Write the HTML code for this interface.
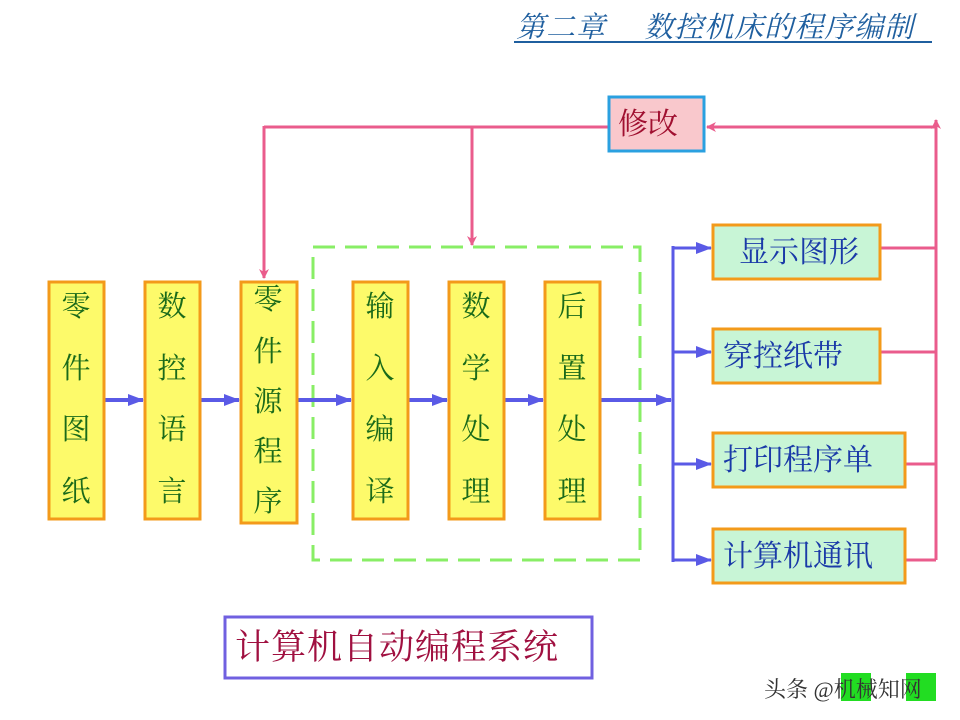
<!DOCTYPE html>
<html><head><meta charset="utf-8"><style>
html,body{margin:0;padding:0;background:#fff;width:960px;height:720px;overflow:hidden}
text{font-family:"Liberation Serif","Noto Serif CJK SC",serif}
</style></head><body>
<svg width="960" height="720" viewBox="0 0 960 720" xmlns="http://www.w3.org/2000/svg">
<defs>
<marker id="bl" markerWidth="16" markerHeight="12" refX="15" refY="6" orient="auto" markerUnits="userSpaceOnUse"><path d="M0,0 L16,6 L0,12z" fill="#5a5ae6"/></marker>
<marker id="pk" markerWidth="10" markerHeight="10" refX="9" refY="5" orient="auto" markerUnits="userSpaceOnUse"><path d="M0,0 L10,5 L0,10 L3,5z" fill="#ea5c8c"/></marker>
</defs>
<text x="516" y="37" font-size="29" font-style="italic" fill="#1f5f9f" letter-spacing="1">第二章　 数控机床的程序编制</text>
<line x1="514" y1="42" x2="932" y2="42" stroke="#1f5f9f" stroke-width="2"/>

<g stroke="#ea5c8c" stroke-width="3" fill="none">
<line x1="264" y1="127" x2="608" y2="127"/>
<line x1="936" y1="127" x2="707" y2="127" marker-end="url(#pk)"/>
<line x1="936" y1="560" x2="936" y2="120" marker-end="url(#pk)"/>
<line x1="264" y1="126" x2="264" y2="278" marker-end="url(#pk)"/>
<line x1="472" y1="126" x2="472" y2="245" marker-end="url(#pk)"/>
<line x1="880" y1="248" x2="936" y2="248"/>
<line x1="880" y1="352" x2="936" y2="352"/>
<line x1="905" y1="464" x2="936" y2="464"/>
<line x1="905" y1="560" x2="936" y2="560"/>
</g>
<rect x="609" y="97" width="95" height="54" fill="#f9c8cc" stroke="#2aa0e0" stroke-width="3"/>
<text x="618" y="134" font-size="30" fill="#a01030">修改</text>

<rect x="313" y="247" width="327" height="313" fill="none" stroke="#88ee66" stroke-width="3" stroke-dasharray="22,10"/>

<g stroke="#5a5ae6" stroke-width="4" fill="none">
<line x1="104" y1="400" x2="143" y2="400" marker-end="url(#bl)"/>
<line x1="200" y1="400" x2="239" y2="400" marker-end="url(#bl)"/>
<line x1="297" y1="400" x2="351" y2="400" marker-end="url(#bl)"/>
<line x1="408" y1="400" x2="447" y2="400" marker-end="url(#bl)"/>
<line x1="504" y1="400" x2="543" y2="400" marker-end="url(#bl)"/>
<line x1="600" y1="400" x2="671" y2="400" marker-end="url(#bl)"/>
<line x1="673" y1="246" x2="673" y2="562" stroke-width="3"/>
<line x1="672" y1="248" x2="711" y2="248" stroke-width="3" marker-end="url(#bl)"/>
<line x1="672" y1="352" x2="711" y2="352" stroke-width="3" marker-end="url(#bl)"/>
<line x1="672" y1="464" x2="711" y2="464" stroke-width="3" marker-end="url(#bl)"/>
<line x1="672" y1="560" x2="711" y2="560" stroke-width="3" marker-end="url(#bl)"/>
</g>

<g fill="#fdfa6a" stroke="#f39a1a" stroke-width="3">
<rect x="49" y="282" width="55" height="237"/>
<rect x="145" y="282" width="55" height="237"/>
<rect x="241" y="282" width="56" height="241"/>
<rect x="353" y="282" width="55" height="237"/>
<rect x="449" y="282" width="55" height="237"/>
<rect x="545" y="282" width="55" height="237"/>
</g>
<g font-size="29" fill="#1a6a1a" text-anchor="middle">
<text x="76" y="316">零</text><text x="76" y="378">件</text><text x="76" y="439">图</text><text x="76" y="501">纸</text>
<text x="172" y="316">数</text><text x="172" y="378">控</text><text x="172" y="439">语</text><text x="172" y="501">言</text>
<text x="268" y="309">零</text><text x="268" y="361">件</text><text x="268" y="411">源</text><text x="268" y="461">程</text><text x="268" y="511">序</text>
<text x="380" y="316">输</text><text x="380" y="378">入</text><text x="380" y="439">编</text><text x="380" y="501">译</text>
<text x="476" y="316">数</text><text x="476" y="378">学</text><text x="476" y="439">处</text><text x="476" y="501">理</text>
<text x="572" y="316">后</text><text x="572" y="378">置</text><text x="572" y="439">处</text><text x="572" y="501">理</text>
</g>

<g fill="#c8f5d6" stroke="#f39a1a" stroke-width="3">
<rect x="713" y="225" width="167" height="54"/>
<rect x="713" y="329" width="167" height="54"/>
<rect x="713" y="433" width="192" height="54"/>
<rect x="713" y="529" width="192" height="54"/>
</g>
<g font-size="30" fill="#1a3aa8">
<text x="739" y="262">显示图形</text>
<text x="723" y="366">穿控纸带</text>
<text x="723" y="470">打印程序单</text>
<text x="723" y="566">计算机通讯</text>
</g>

<rect x="225" y="617" width="367" height="61" fill="#fff" stroke="#7060e0" stroke-width="3"/>
<text x="235" y="659" font-size="35" fill="#a01040" letter-spacing="1">计算机自动编程系统</text>

<rect x="841" y="673" width="30" height="28" fill="#22dd22"/>
<rect x="906" y="673" width="30" height="28" fill="#22dd22"/>
<text x="764" y="697" font-size="22" fill="#333" font-family="Liberation Sans,Noto Sans CJK SC,sans-serif">头条 @机械知网</text>
</svg>
</body></html>
